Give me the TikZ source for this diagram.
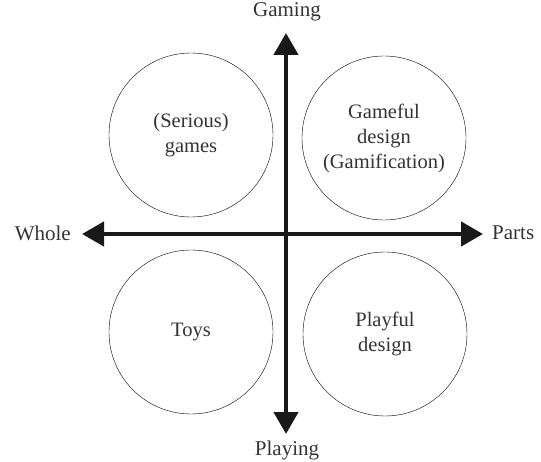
\documentclass[tikz,border=0pt]{standalone}
\usepackage{fontspec}
\setmainfont{Liberation Serif}
\usetikzlibrary{arrows.meta}
\tikzstyle{quadrant} = [draw=black, thin, circle, minimum size=164pt, inner sep=0pt,
align=center, text=black!80, font=\fontsize{20.5}{25}\selectfont]
\tikzstyle{axislabel} = [inner sep=0pt, text=black!80, font=\fontsize{21}{25}\selectfont]
\tikzstyle{axis} = [line width=4.5pt, draw=black!90,
{Triangle[length=22pt,width=24pt]}-{Triangle[length=22pt,width=24pt]}]

\begin{document}
\begin{tikzpicture}[x=1pt,y=-1pt]
        \useasboundingbox (0,0) rectangle (541,462);
        % arrow tips of the two axes
        \coordinate (lefttip) at (82,234);
        \coordinate (righttip) at (483,234);
        \coordinate (toptip) at (286,33);
        \coordinate (bottomtip) at (286,434);
        \draw[axis] (lefttip) -- (righttip);
        \draw[axis] (bottomtip) -- (toptip);
        \node[axislabel, anchor=east] (whole) at (71,233) {Whole};
        \node[axislabel, anchor=west] (parts) at (492,233) {Parts};
        \node[axislabel, anchor=base] (gaming) at (287,17) {Gaming};
        \node[axislabel, anchor=base] (playing) at (287,455) {Playing};
        % the four quadrants
        \node[quadrant] (serious) at (191,135) {(Serious)\\games};
        \node[quadrant] (gameful) at (384,138) {Gameful\\design\\(Gamification)};
        \node[quadrant] (toys) at (191,332) {Toys};
        \node[quadrant] (playful) at (385,334) {Playful\\design};
    \end{tikzpicture}
\end{document}
